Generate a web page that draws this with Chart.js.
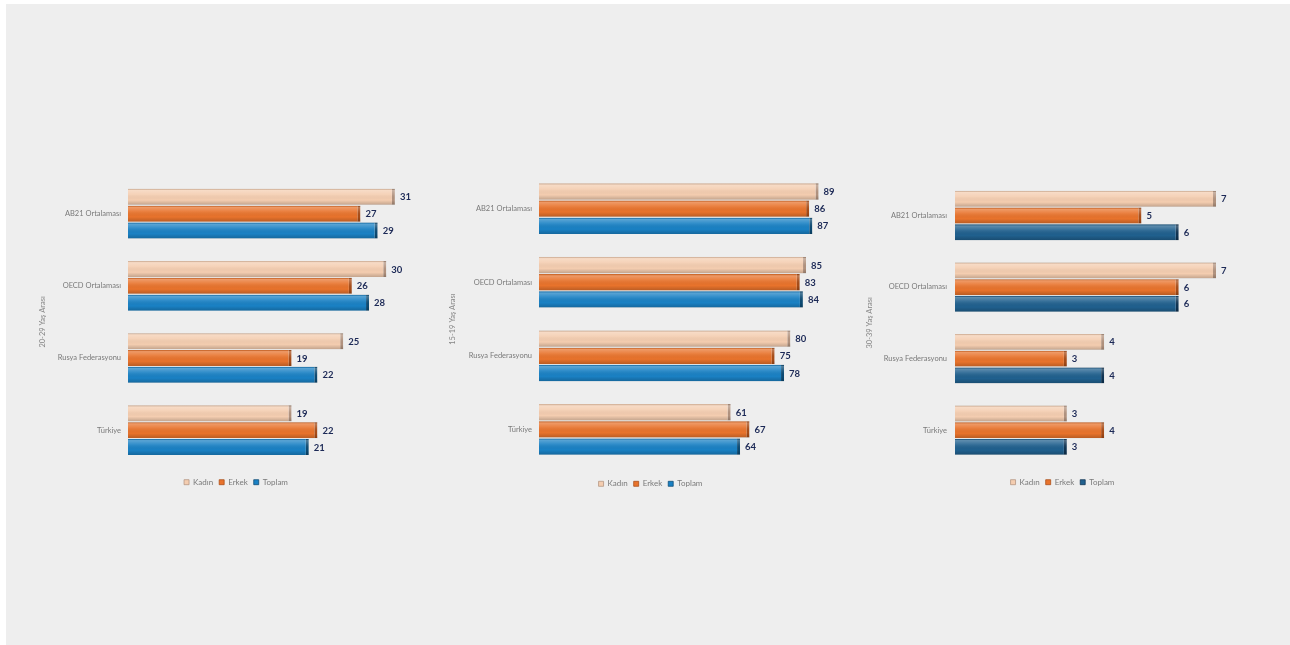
<!DOCTYPE html>
<html><head><meta charset="utf-8">
<script src="https://cdn.jsdelivr.net/npm/chart.js@4.4.1/dist/chart.umd.min.js"></script>
<style>
html,body{margin:0;padding:0;background:#ffffff;width:1290px;height:645px;overflow:hidden;position:relative;}
#bg{position:absolute;left:6px;top:4px;width:1284px;height:641px;background:#eeeeee;}
canvas{position:absolute;}
</style></head><body>
<div id="bg"></div>
<canvas id="c1" width="408" height="345" style="left:32px;top:155px"></canvas>
<canvas id="c2" width="411" height="345" style="left:445px;top:155px"></canvas>
<canvas id="c3" width="401" height="345" style="left:862px;top:155px"></canvas>
<script>
const categories = ['AB21 Ortalaması', 'OECD Ortalaması', 'Rusya Federasyonu', 'Türkiye'];
const seriesNames = ['Kadın', 'Erkek', 'Toplam'];

const titleA = '20-29 Yaş Arası';
const kadinA = [31, 30, 25, 19];
const erkekA = [27, 26, 19, 22];
const toplamA = [29, 28, 22, 21];

const titleB = '15-19 Yaş Arası';
const kadinB = [89, 85, 80, 61];
const erkekB = [86, 83, 75, 67];
const toplamB = [87, 84, 78, 64];

const titleC = '30-39 Yaş Arası';
const kadinC = [7, 7, 4, 3];
const erkekC = [5, 6, 3, 4];
const toplamC = [6, 6, 4, 3];

Chart.defaults.font.family = 'Lato, "Open Sans", sans-serif';
Chart.defaults.animation = false;

const glossPlugin = {
  id: 'gloss',
  afterDatasetsDraw(chart) {
    const ctx = chart.ctx;
    chart.data.datasets.forEach((ds, di) => {
      const meta = chart.getDatasetMeta(di);
      meta.data.forEach((el, i) => {
        const p = el.getProps(['x', 'y', 'base', 'height'], true);
        const top = p.y - p.height / 2, bot = p.y + p.height / 2;
        const left = Math.min(p.base, p.x), right = Math.max(p.base, p.x);
        const g = ctx.createLinearGradient(0, top, 0, bot);
        g.addColorStop(0, 'rgba(0,0,0,0.14)');
        g.addColorStop(0.1, 'rgba(255,255,255,0.28)');
        g.addColorStop(0.35, 'rgba(255,255,255,0.10)');
        g.addColorStop(0.7, 'rgba(0,0,0,0.0)');
        g.addColorStop(1, 'rgba(0,0,0,0.20)');
        ctx.save();
        ctx.fillStyle = g;
        ctx.fillRect(left, top, right - left, p.height);
        ctx.fillStyle = '#1c2956';
        ctx.font = 'bold 9.5px Lato, "Open Sans", sans-serif';
        ctx.textBaseline = 'middle';
        ctx.textAlign = 'left';
        ctx.fillText(String(ds.data[i]), right + 5, p.y + 0.5);
        ctx.restore();
      });
    });
  }
};

function makeChart(id, title, k, e, t, o) {
  return new Chart(document.getElementById(id), {
    type: 'bar',
    plugins: [glossPlugin],
    data: {
      labels: categories,
      datasets: [
        { label: seriesNames[0], data: k, backgroundColor: '#f4cdb0', borderColor: '#b2937f',
          borderWidth: { top: 0, right: 3, bottom: 0, left: 0 }, borderSkipped: false },
        { label: seriesNames[1], data: e, backgroundColor: '#e8732c', borderColor: '#a84c17',
          borderWidth: { top: 0, right: 3, bottom: 0, left: 0 }, borderSkipped: false },
        { label: seriesNames[2], data: t, backgroundColor: o.blue, borderColor: o.blueCap,
          borderWidth: { top: 0, right: 3, bottom: 0, left: 0 }, borderSkipped: false }
      ]
    },
    options: {
      responsive: false,
      indexAxis: 'y',
      categoryPercentage: 0.7,
      barPercentage: 0.95,
      layout: { padding: { top: o.padTop, bottom: o.padBottom, left: 0, right: 0 } },
      scales: {
        x: { display: false, min: 0, max: o.max },
        y: {
          grid: { display: false, drawTicks: false, tickLength: 0 },
          border: { display: false },
          ticks: { color: '#7a7a7a', font: { size: 7.5 }, padding: o.tickPad },
          title: { display: true, text: title, color: '#858585', font: { size: 7.5 },
                   padding: { top: o.titlePad, bottom: 0 } },
          afterFit(s) { s.width = o.yW; }
        }
      },
      plugins: {
        tooltip: { enabled: false },
        legend: {
          position: 'bottom',
          title: { display: true, text: '', font: { size: 1 }, padding: { top: o.legGap, bottom: 0 } },
          labels: { boxWidth: 5, boxHeight: 5, padding: 6, color: '#7a7a7a', font: { size: 8 } }
        }
      }
    }
  });
}

makeChart('c1', titleA, kadinA, erkekA, toplamA,
  { blue: '#1a81c4', blueCap: '#0c4a73', max: 36.24, yW: 96, tickPad: 7, titlePad: 6.5,
    padTop: 22.6, padBottom: 3.8, legGap: 4.8 });
makeChart('c2', titleB, kadinB, erkekB, toplamB,
  { blue: '#1a81c4', blueCap: '#0c4a73', max: 100.9, yW: 94, tickPad: 7, titlePad: 3.5,
    padTop: 16.9, padBottom: 2.2, legGap: 6.4 });
makeChart('c3', titleC, kadinC, erkekC, toplamC,
  { blue: '#20608e', blueCap: '#0f3352', max: 8.26, yW: 93, tickPad: 8, titlePad: 3.5,
    padTop: 24.75, padBottom: 3.8, legGap: 5.05 });
</script>
</body></html>
